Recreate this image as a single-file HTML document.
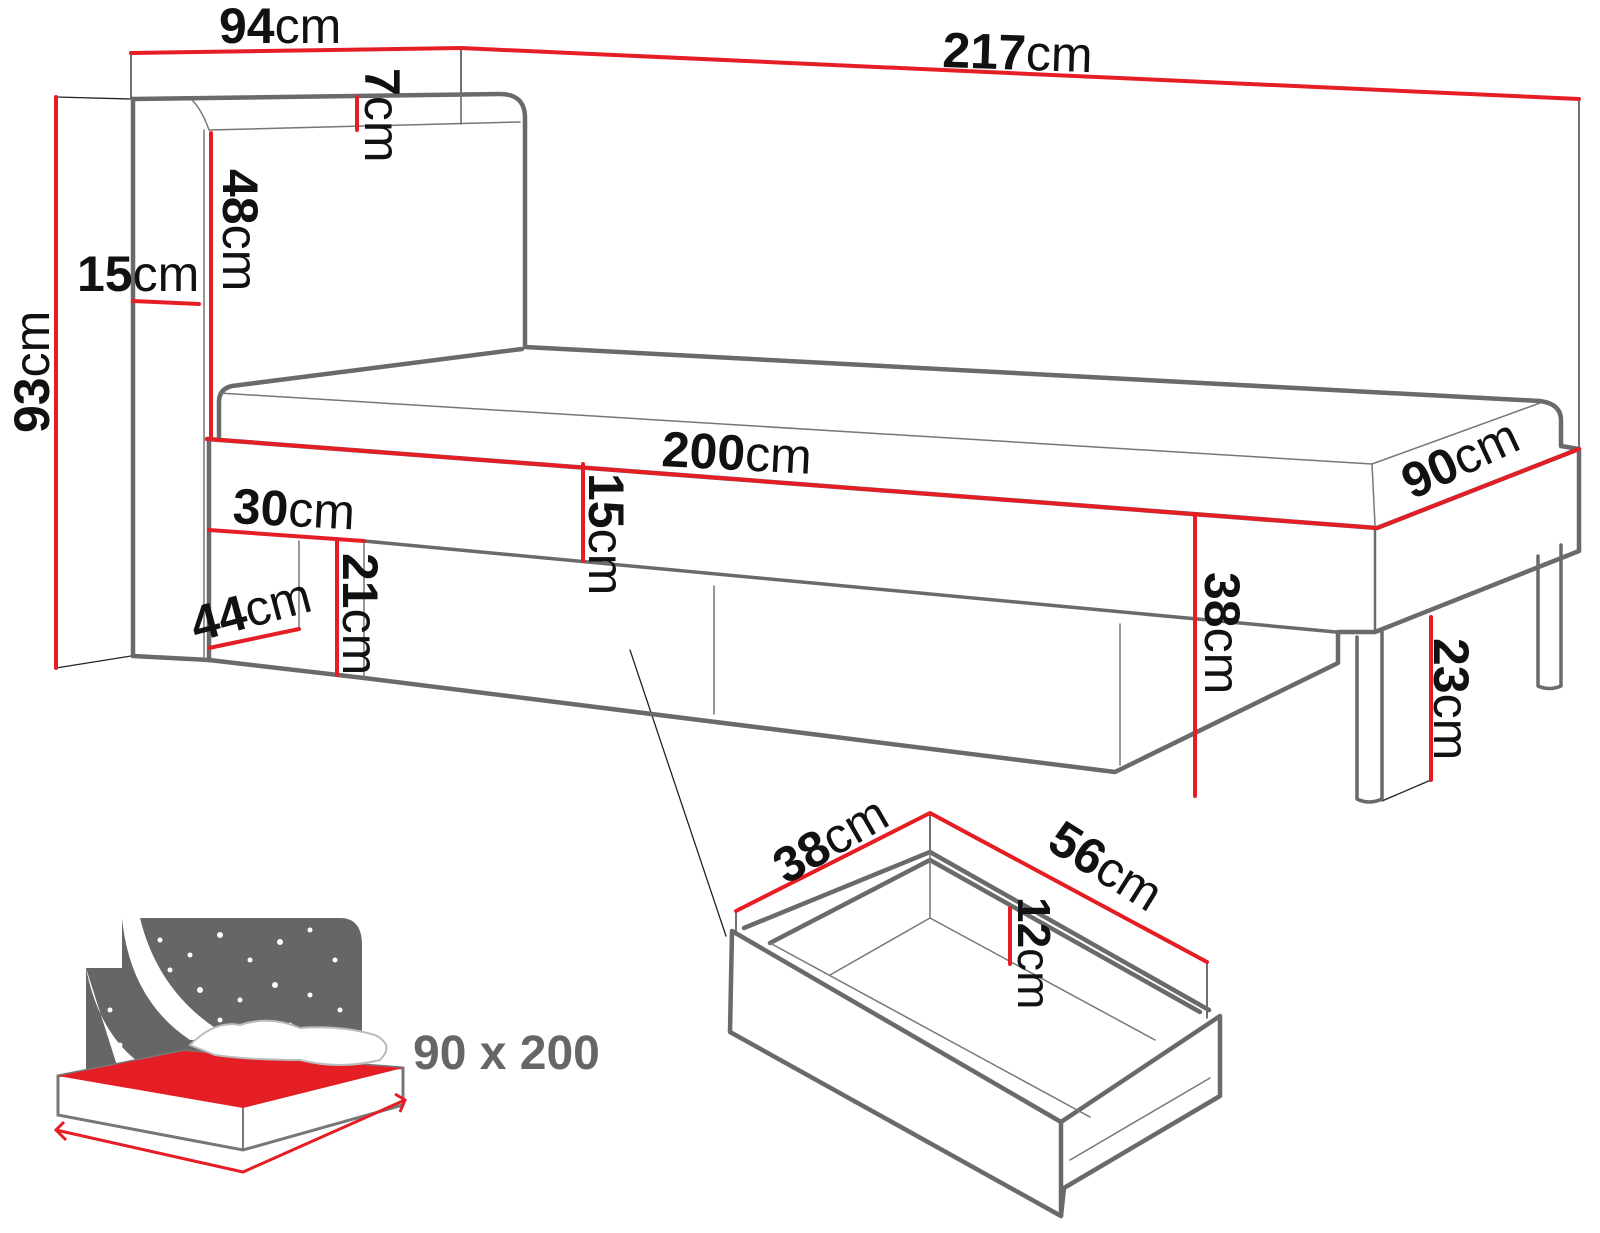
<!DOCTYPE html>
<html><head><meta charset="utf-8"><style>
html,body{margin:0;padding:0;background:#fff;}
svg{display:block;}
text{font-family:"Liberation Sans",sans-serif;font-size:50px;fill:#111;}
.b{font-weight:bold;}
</style></head><body>
<svg width="1600" height="1233" viewBox="0 0 1600 1233" xmlns="http://www.w3.org/2000/svg">
<g fill="none" stroke-linejoin="round" stroke-linecap="round">
<g stroke="#222" stroke-width="1.3">
<line x1="131" y1="53" x2="131" y2="99"/>
<line x1="461" y1="48" x2="461" y2="124"/>
<line x1="56" y1="97" x2="131" y2="99"/>
<line x1="56" y1="668" x2="131" y2="656"/>
<line x1="1579" y1="99" x2="1579" y2="449"/>
<line x1="1382" y1="801" x2="1431" y2="780"/>
<line x1="630" y1="650" x2="726" y2="936"/>
<line x1="736" y1="911" x2="736" y2="935"/>
<line x1="930" y1="813" x2="930" y2="852"/>
<line x1="1207" y1="962" x2="1207" y2="1018"/>
</g>
<g stroke="#6a6a6a" stroke-width="4.5">
<path d="M133 99 L133 656 L209 660"/>
<path d="M133 99 L500 94 Q525 94 525 118 L525 347 L1540 401 Q1561 404 1561 420 L1561 446 L1579 449"/>
<path d="M522 349 L232 386 Q219 389 219 402 L219 437"/>
<path d="M207 439 L1377 528 L1579 449 L1579 551 L1375 632 L1338 632 L1338 663 L1115 772 L364 678 L209 660"/>
<path d="M209 439 L209 660"/>
<path d="M364 541 L1336 632" stroke-width="3.5"/>
<path d="M1375 528 L1375 632" stroke-width="2.5"/>
<path d="M1357 637 L1357 799 Q1369 805 1382 799 L1382 632" stroke-width="3.5"/>
<path d="M1538 556 L1538 686 Q1549 691 1561 686 L1561 545" stroke-width="3.5"/>
</g>
<g stroke="#777" stroke-width="1.5">
<path d="M204 130 L204 658"/>
<path d="M192 100 Q202 110 209 130 L520 122"/>
<path d="M461 94 L461 124"/>
<path d="M219 393 L1372 464 L1540 403"/>
<path d="M1372 464 L1375 525"/>
<path d="M299 541 L299 629 L209 648"/>
<path d="M364 541 L364 678"/>
<path d="M714 586 L714 714"/>
<path d="M1120 624 L1120 765"/>
</g>
<g stroke="#6a6a6a" stroke-width="4.5">
<path d="M732 931 L730 1032 L1061 1216 L1064 1188 L1220 1096 L1220 1016 L1061 1122 L732 931"/>
<path d="M1061 1122 L1061 1216"/>
<path d="M744 928 L930 852 L1209 1010"/>
<path d="M770 943 L930 860 L1200 1012"/>
</g>
<g stroke="#777" stroke-width="1.5">
<path d="M930 852 L930 918 L830 975"/>
<path d="M930 918 L1155 1040"/>
<path d="M770 943 L1090 1117"/>
<path d="M1070 1160 L1210 1078"/>
</g>
<g stroke="#e51e25" stroke-width="4">
<path d="M131 53 L461 48 L1579 99"/>
<line x1="56" y1="97" x2="56" y2="668"/>
<line x1="357" y1="97" x2="357" y2="130"/>
<line x1="211" y1="133" x2="211" y2="437"/>
<line x1="133" y1="301" x2="199" y2="304"/>
<path d="M207 439 L1377 528 L1579 449"/>
<line x1="583" y1="464" x2="583" y2="561"/>
<line x1="209" y1="530" x2="364" y2="541"/>
<line x1="337" y1="541" x2="337" y2="675"/>
<line x1="209" y1="648" x2="299" y2="629"/>
<line x1="1195" y1="515" x2="1195" y2="796"/>
<line x1="1431" y1="617" x2="1431" y2="780"/>
<path d="M736 911 L930 813 L1207 962"/>
<line x1="1010" y1="908" x2="1010" y2="964"/>
</g>
</g>
<text x="219" y="43"><tspan class="b">94</tspan>cm</text>
<text x="942" y="67" transform="rotate(2 942 67)"><tspan class="b">217</tspan>cm</text>
<text transform="translate(365 68) rotate(90)"><tspan class="b">7</tspan>cm</text>
<text transform="translate(223 169) rotate(90)"><tspan class="b">48</tspan>cm</text>
<text x="77" y="291"><tspan class="b">15</tspan>cm</text>
<text transform="translate(49 433) rotate(-90)"><tspan class="b">93</tspan>cm</text>
<text x="661" y="466" transform="rotate(3 661 466)"><tspan class="b">200</tspan>cm</text>
<text transform="translate(589 473) rotate(90)"><tspan class="b">15</tspan>cm</text>
<text x="232" y="523" transform="rotate(3 232 523)"><tspan class="b">30</tspan>cm</text>
<text transform="translate(343 553) rotate(90)"><tspan class="b">21</tspan>cm</text>
<text x="196" y="642" transform="rotate(-15 196 642)"><tspan class="b">44</tspan>cm</text>
<text transform="translate(1205 572) rotate(90)"><tspan class="b">38</tspan>cm</text>
<text transform="translate(1434 638) rotate(90)"><tspan class="b">23</tspan>cm</text>
<text x="1412" y="500" transform="rotate(-25 1412 500)"><tspan class="b">90</tspan>cm</text>
<text x="786" y="885" transform="rotate(-30 786 885)"><tspan class="b">38</tspan>cm</text>
<text x="1045" y="848" transform="rotate(32 1045 848)"><tspan class="b">56</tspan>cm</text>
<text transform="translate(1018 897) rotate(90)" style="font-size:46px"><tspan class="b">12</tspan>cm</text>
<path d="M122 918 L340 918 Q362 918 362 945 L362 1040 L150 1075 L86 1090 L86 968 L122 968 Z" fill="#666"/>
<path d="M122 918 Q130 1000 190 1040 L235 1040 Q160 1000 140 918 Z" fill="#fff"/>
<path d="M86 968 Q100 1040 150 1070 L120 1075 Z" fill="#fff"/>
<g fill="#fff">
<circle cx="160" cy="940" r="2.5"/><circle cx="190" cy="955" r="2.5"/><circle cx="220" cy="935" r="3"/><circle cx="250" cy="960" r="2.5"/><circle cx="280" cy="942" r="3"/><circle cx="310" cy="930" r="2.5"/><circle cx="335" cy="960" r="2.5"/><circle cx="200" cy="990" r="3"/><circle cx="240" cy="1000" r="2.5"/><circle cx="275" cy="985" r="3"/><circle cx="310" cy="995" r="2.5"/><circle cx="340" cy="1010" r="2.5"/><circle cx="220" cy="1020" r="2.5"/><circle cx="290" cy="1025" r="2.5"/><circle cx="110" cy="1010" r="2.5"/><circle cx="120" cy="1045" r="2.5"/><circle cx="170" cy="970" r="2.5"/>
</g>
<path d="M58 1076 L184 1051 L403 1068 L403 1105 L243 1150 L58 1115 Z" fill="#fff" stroke="#777" stroke-width="3"/>
<path d="M58 1076 L184 1051 L403 1068 L243 1108 Z" fill="#e51e25"/>
<path d="M243 1108 L243 1150" stroke="#777" stroke-width="2"/>
<path d="M190 1045 Q215 1020 240 1025 Q270 1015 300 1028 Q340 1025 375 1035 Q395 1045 380 1060 Q340 1070 300 1060 Q250 1060 215 1055 Z" fill="#fff" stroke="#bbb" stroke-width="2"/>
<g stroke="#e51e25" stroke-width="3" fill="none">
<path d="M56 1130 L243 1172 L405 1100"/>
<path d="M64 1122 L56 1130 L66 1140"/>
<path d="M395 1094 L405 1100 L400 1112"/>
</g>
<text x="413" y="1069" style="font-size:48px;font-weight:bold;fill:#666">90 x 200</text>
</svg>
</body></html>
